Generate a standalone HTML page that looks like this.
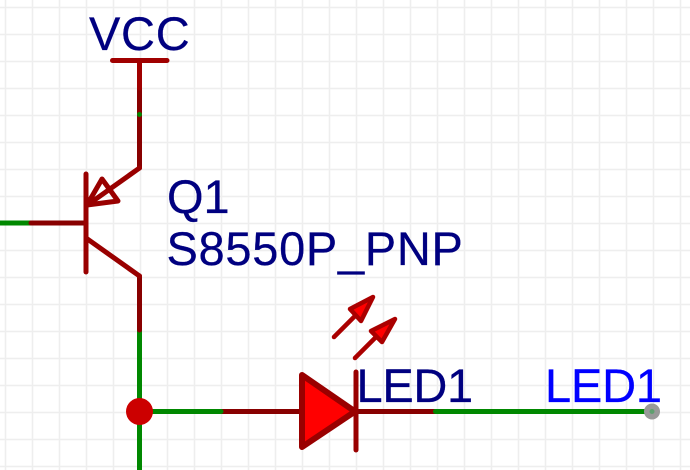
<!DOCTYPE html>
<html>
<head>
<meta charset="utf-8">
<style>
html,body{margin:0;padding:0;background:#fff;width:690px;height:470px;overflow:hidden}
svg{display:block}
text{font-family:"Liberation Sans",sans-serif;font-size:47px;stroke-width:.25px}
</style>
</head>
<body>
<svg width="690" height="470" viewBox="0 0 690 470" xmlns="http://www.w3.org/2000/svg">
<g stroke="#eeeeee" stroke-width="1.5" fill="none">
<path d="M5.500 0V470M32.500 0V470M59.500 0V470M86.500 0V470M113.500 0V470M140.500 0V470M167.500 0V470M194.500 0V470M221.500 0V470M248.500 0V470M275.500 0V470M302.500 0V470M329.500 0V470M356.500 0V470M383.500 0V470M410.500 0V470M437.500 0V470M464.500 0V470M491.500 0V470M518.500 0V470M545.500 0V470M572.500 0V470M599.500 0V470M626.500 0V470M653.500 0V470M680.500 0V470"/>
<path d="M0 7.500H690M0 34.500H690M0 61.500H690M0 88.500H690M0 115.500H690M0 142.500H690M0 169.500H690M0 196.500H690M0 223.500H690M0 250.500H690M0 277.500H690M0 304.500H690M0 331.500H690M0 358.500H690M0 385.500H690M0 412.500H690M0 439.500H690M0 466.500H690"/>
</g>

<!-- pins under wires on the LED branch -->
<g stroke="#880000" stroke-width="5" fill="none">
<path d="M220 411.500H302"/>
<path d="M356 411.500H436"/>
</g>

<!-- wires -->
<g stroke="#008800" stroke-width="5" fill="none" stroke-linecap="round">
<path d="M-3 223H32"/>
<path d="M139.500 330V474"/>
<path d="M139.500 411.500H221"/>
<path d="M435.500 411.500H652"/>
</g>

<!-- pins over wires -->
<g stroke="#880000" stroke-width="5" fill="none" stroke-linecap="round">
<path d="M139.500 88V168"/>
<path d="M139.500 276V330"/>
<path d="M31 223H86"/>
</g>

<!-- VCC -->
<g stroke="#a00000" stroke-width="5" fill="none" stroke-linecap="round">
<path d="M112.500 60.500H167"/>
<path d="M139.500 60.500V88"/>
</g>
<circle cx="139.500" cy="114.500" r="2.500" fill="#008800"/>

<!-- transistor -->
<g stroke="#990000" stroke-width="5" fill="none" stroke-linecap="round" stroke-linejoin="round">
<path d="M86 174V272"/>
<path d="M139.500 168L86 206"/>
<path d="M86 238L139.500 276"/>
<path d="M87 205L102 179L118 201Z"/>
</g>

<!-- diode -->
<path d="M302 375L355 411.500L302 447Z" fill="#ff0000" stroke="#990000" stroke-width="6" stroke-linejoin="round"/>
<path d="M356 372V450" stroke="#990000" stroke-width="5" stroke-linecap="round" fill="none"/>

<!-- LED arrows -->
<g stroke="#aa0000" stroke-width="4.500" stroke-linecap="round" stroke-linejoin="round" fill="#ff0000">
<path d="M334 337L358 313" fill="none"/>
<path d="M373 297L350 309L361 321Z"/>
<path d="M355 358L378 335" fill="none"/>
<path d="M395 319L371 331L382 342Z"/>
</g>

<!-- junction -->
<circle cx="139.500" cy="411.500" r="13.500" fill="#cc0000"/>

<!-- net flag end -->
<circle cx="652" cy="411.500" r="8" fill="#999999"/>
<circle cx="652" cy="411.500" r="2.500" fill="#5f9f6f"/>

<!-- text -->
<g fill="#000080" stroke="#000080">
<text x="89" y="50" letter-spacing="0.7">VCC</text>
<text x="167" y="213">Q1</text>
<text x="166.500" y="265" letter-spacing="0.7">S8550P_PNP</text>
<text x="356.500" y="402" letter-spacing="-0.3">LED1</text>
</g>
<text x="545" y="402" fill="#0000ff" stroke="#0000ff" letter-spacing="-0.2">LED1</text>
</svg>
</body>
</html>
